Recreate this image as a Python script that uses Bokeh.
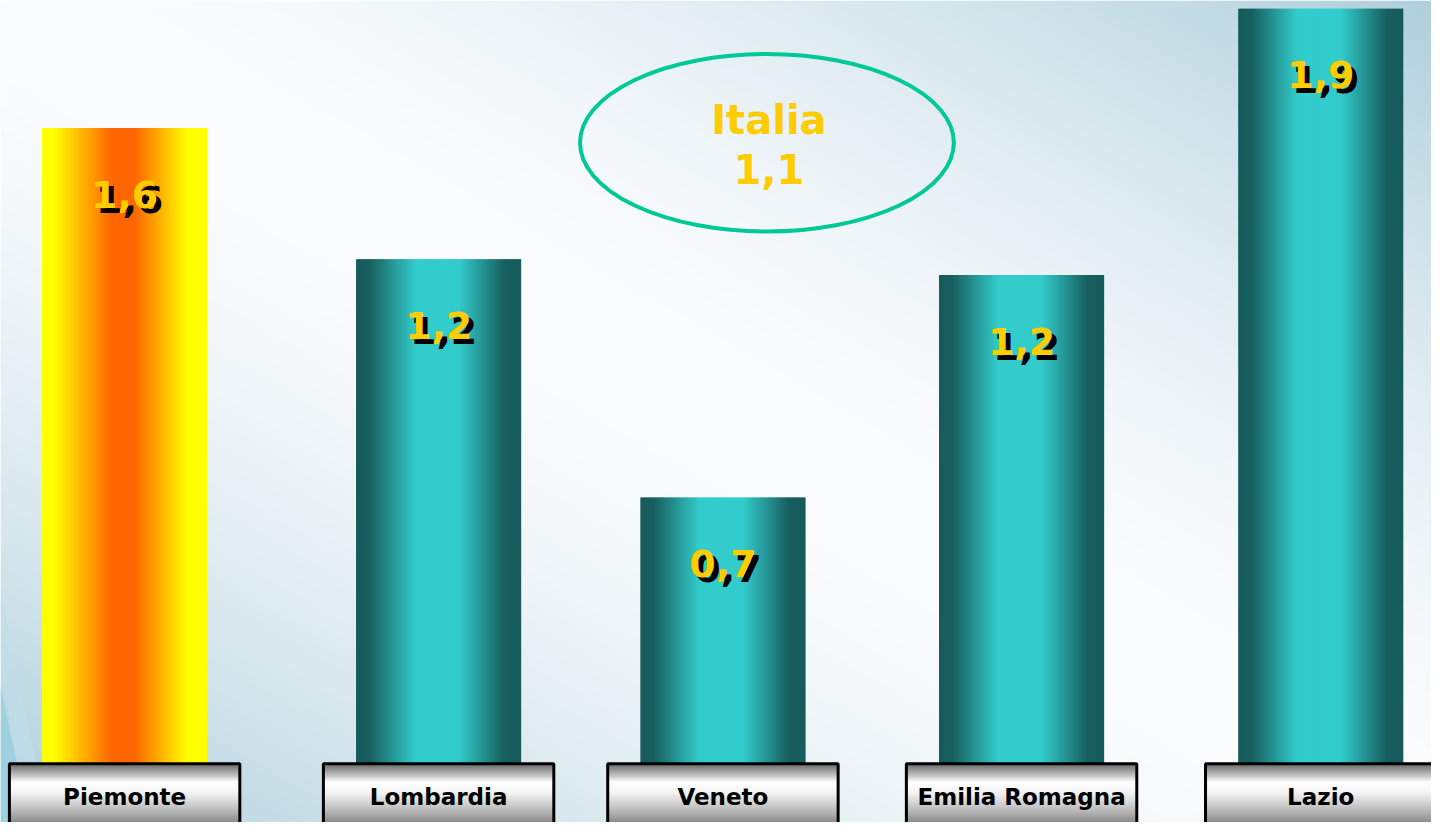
import numpy as np
from bokeh.plotting import figure
from bokeh.models import Range1d, ColumnDataSource
from bokeh.core.properties import value
from bokeh.embed import file_html
from bokeh.resources import INLINE

# ---------------- data ----------------
regions = ["Piemonte", "Lombardia", "Veneto", "Emilia Romagna", "Lazio"]
values = [1.60, 1.27, 0.67, 1.23, 1.90]
value_labels = ["1,6", "1,2", "0,7", "1,2", "1,9"]
highlight = ["Piemonte"]
italia_label = "Italia"
italia_value = "1,1"

# ---------------- layout (not data) ----------------
centers = [125.5, 443.0, 730.5, 1032.5, 1335.0]
BAR_W = 167
BOX_W = 233
X0, X1 = 0, 1447
Y0, Y1 = -0.148, 1.921
FONT = value("DejaVu Sans")

p = figure(width=1431, height=822, output_backend="svg", toolbar_location=None,
           x_range=Range1d(X0, X1), y_range=Range1d(Y0, Y1),
           x_axis_location=None, y_axis_location=None, min_border=0)
p.grid.visible = False
p.outline_line_color = None
p.background_fill_color = "#ffffff"
p.border_fill_color = "#ffffff"

# ---------------- background gradient ----------------
H, W = 210, 362
xs = (np.arange(W) + 0.5) / W
ysd = 1 - (np.arange(H) + 0.5) / H
u, v = np.meshgrid(xs, ysd)
t = np.clip(np.abs(u - v), 0, 1)
s = t ** 1.6
white = np.array([252, 253, 254.0])
blue = np.array([174, 207, 220.0])
rgb = white * (1 - s[..., None]) + blue * s[..., None]
img = np.zeros((H, W), dtype=np.uint32)
view = img.view(dtype=np.uint8).reshape((H, W, 4))
view[..., 0] = rgb[..., 0].astype(np.uint8)
view[..., 1] = rgb[..., 1].astype(np.uint8)
view[..., 2] = rgb[..., 2].astype(np.uint8)
view[..., 3] = 255
p.image_rgba(image=[img], x=X0, y=Y0, dw=X1 - X0, dh=Y1 - Y0)


def ry(py):
    return (778 - py) / 405.0


p.patch(x=[0, 48, 22, 0], y=[ry(600), ry(838), ry(838), ry(660)], fill_color="#bfe0ea",
        fill_alpha=0.6, line_color=None)
p.patch(x=[0, 30, 0], y=[ry(700), ry(838), ry(838)], fill_color="#96d0e0",
        fill_alpha=0.8, line_color=None)


# ---------------- gradient helpers ----------------
def hex2rgb(h):
    return np.array([int(h[i:i + 2], 16) for i in (1, 3, 5)], float)


def profile(stops, n):
    pos = np.array([st[0] for st in stops])
    cols = np.array([hex2rgb(st[1]) for st in stops])
    tt = (np.arange(n) + 0.5) / n
    out = np.stack([np.interp(tt, pos, cols[:, k]) for k in range(3)], axis=1)
    return ["#%02x%02x%02x" % tuple(int(round(c)) for c in row) for row in out]


N = 110
teal = profile([(0, "#175b5b"), (0.08, "#185f5f"), (0.36, "#33cccc"), (0.62, "#33cccc"),
                (0.9, "#185f5f"), (1, "#175b5b")], N)
hot = profile([(0, "#ffff00"), (0.07, "#ffff00"), (0.42, "#ff6600"), (0.56, "#ff6600"),
               (0.88, "#ffff00"), (1, "#ffff00")], N)

# ---------------- bars ----------------
L, R, T, C = [], [], [], []
for reg, val, c in zip(regions, values, centers):
    cols = hot if reg in highlight else teal
    edges = c - BAR_W / 2 + np.arange(N + 1) * BAR_W / N
    rights = np.minimum(edges[1:] + 1.2, c + BAR_W / 2)
    L += list(edges[:-1]); R += list(rights); T += [val] * N; C += cols
bars = ColumnDataSource(dict(left=L, right=R, top=T, color=C))
p.quad(left="left", right="right", bottom=0, top="top", fill_color="color",
       line_color=None, source=bars)

# ---------------- category boxes ----------------
M = 40
gray = profile([(0, "#6a6a6a"), (0.12, "#9c9c9c"), (0.32, "#ffffff"), (0.5, "#f2f2f2"),
                (0.78, "#bdbdbd"), (1, "#8a8a8a")], M)
bl, br, bt, bb, bc = [], [], [], [], []
hy = (0 - Y0) / M
for c in centers:
    for k in range(M):
        bl.append(c - BOX_W / 2); br.append(c + BOX_W / 2)
        bt.append(0 - k * hy); bb.append(0 - (k + 1.6) * hy); bc.append(gray[k])
p.quad(left=bl, right=br, top=bt, bottom=bb, fill_color=bc, line_color=None)
p.quad(left=[c - BOX_W / 2 for c in centers], right=[c + BOX_W / 2 for c in centers],
       top=[0] * len(centers), bottom=[Y0 - 0.05] * len(centers),
       fill_color=None, line_color="black", line_width=3)
p.text(x=centers, y=[ry(812)] * len(centers), text=regions, text_font=FONT,
       text_font_style="bold", text_font_size="23px", text_color="black",
       text_align="center", text_baseline="middle")

# ---------------- value labels ----------------
lab = ColumnDataSource(dict(x=centers, y=values, t=value_labels))
p.text(x="x", y="y", text="t", source=lab, x_offset=5, y_offset=71, text_font=FONT,
       text_font_style="bold", text_font_size="38px", text_color="black",
       text_align="center", text_baseline="middle")
p.text(x="x", y="y", text="t", source=lab, x_offset=0, y_offset=66, text_font=FONT,
       text_font_style="bold", text_font_size="38px", text_color="#ffcc00",
       text_align="center", text_baseline="middle")

# ---------------- Italia ellipse ----------------
p.ellipse(x=[775], y=[ry(145)], width=[378], height=[181 / 405.0], fill_color=None,
          line_color="#00c896", line_width=4)
p.text(x=[777, 777], y=[ry(122), ry(172)], text=[italia_label, italia_value], text_font=FONT,
       text_font_style="bold", text_font_size="40px", text_color="#ffcc00",
       text_align="center", text_baseline="middle")

open("out.html", "w").write(file_html(p, INLINE))
